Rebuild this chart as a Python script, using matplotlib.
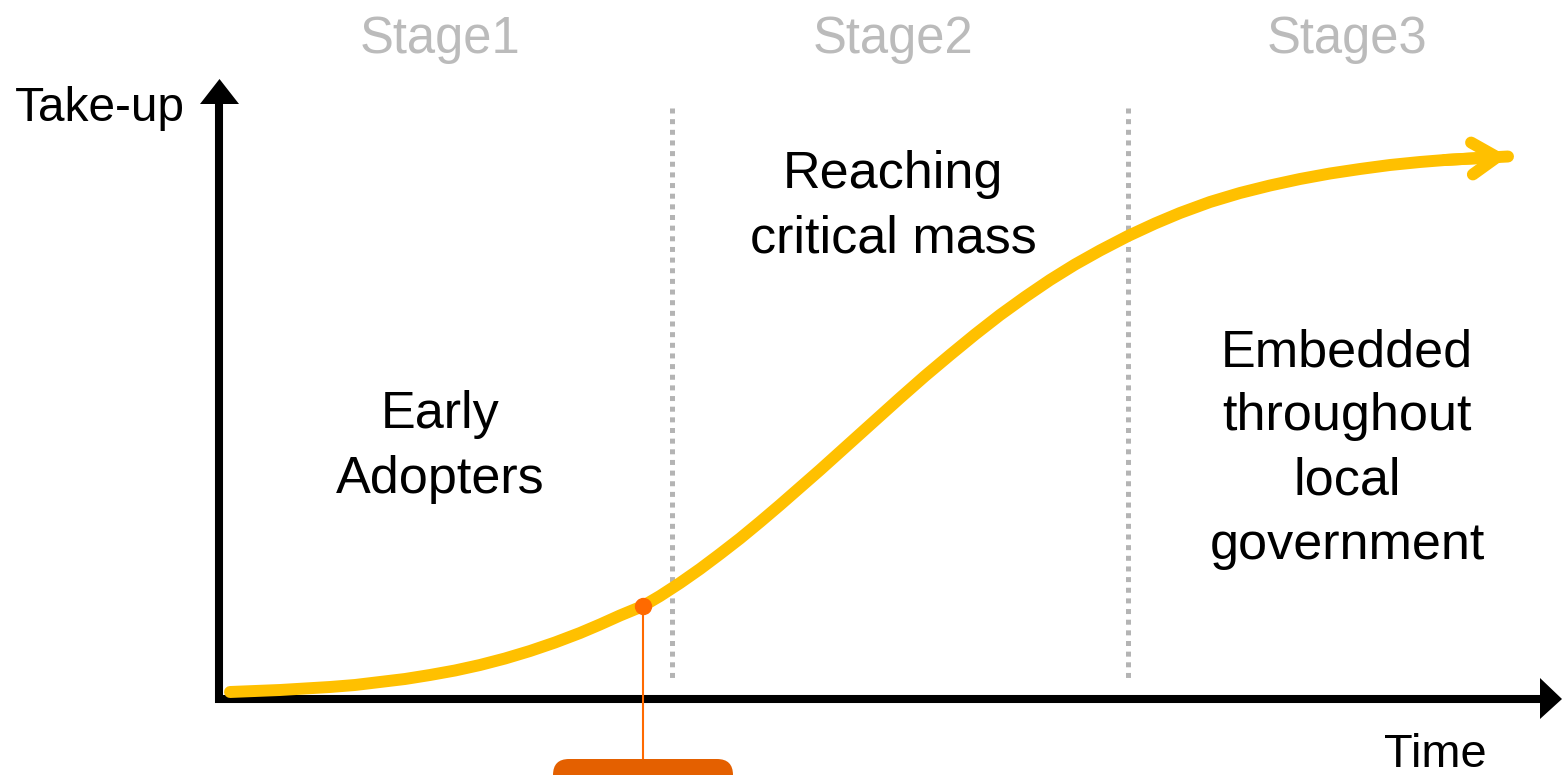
import matplotlib.pyplot as plt
from matplotlib.patches import FancyBboxPatch, Polygon

# -------------------------------
# data (pixel space of the 1562x775 canvas, y grows downward)
# -------------------------------
curve_x = [230, 255, 280, 305, 330, 355, 380, 405, 430, 455, 480, 505, 530, 555,
           580, 600, 620, 643, 660, 680, 700, 720, 740, 760, 780, 800, 820, 840,
           860, 880, 900, 925, 950, 975, 1000, 1025, 1050, 1075, 1100, 1128,
           1155, 1180, 1210, 1240, 1270, 1300, 1330, 1360, 1390, 1420, 1445,
           1470, 1508]
curve_y = [692, 691, 690, 688.5, 687, 685, 682, 679, 675, 670.5, 665, 658.5, 651,
           642.5, 633, 624.5, 615.5, 606, 596, 583, 569, 554, 538.5, 522, 505,
           487.5, 470, 452, 434, 416, 398, 376, 355, 334.5, 315, 297, 280, 264.5,
           250.5, 236, 223.5, 213, 202, 193, 185.5, 179, 173.5, 169, 165, 162,
           160, 158.5, 156.5]

stage_names = ["Stage1", "Stage2", "Stage3"]
stage_centres = [440, 893, 1347]
stage_text = ["Early\nAdopters", "Reaching\ncritical mass",
              "Embedded\nthroughout\nlocal\ngovernment"]
stage_text_y = [447, 207, 449]
divider_x = [672, 1128]

marker_x = 643
marker_y = 606

# colours
YELLOW = "#FFC000"
ORANGE = "#FF6A00"
BOX_ORANGE = "#E46000"
GREY = "#B4B4B4"
STAGE_GREY = "#BBBBBB"

plt.rcParams['font.family'] = ['Liberation Sans', 'DejaVu Sans']

fig = plt.figure(figsize=(15.62, 7.75), dpi=100)
ax = fig.add_axes([0, 0, 1, 1])
ax.set_xlim(0, 1562)
ax.set_ylim(775, 0)
ax.axis('off')

# -------------------------------
# axes with arrow heads
# -------------------------------
ax.plot([219, 219], [703, 100], color='black', lw=5.8, solid_capstyle='butt')
ax.plot([215, 1542], [699, 699], color='black', lw=5.8, solid_capstyle='butt')
ax.add_patch(Polygon([[200, 104], [239, 104], [219.5, 79]], closed=True,
                     color='black', lw=0))
ax.add_patch(Polygon([[1540, 678], [1540, 719], [1562, 699]], closed=True,
                     color='black', lw=0))

ax.text(185, 121, "Take-up", fontsize=34.4, ha='right', va='baseline')
ax.text(1435, 767, "Time", fontsize=33.8, ha='center', va='baseline')

# -------------------------------
# stage dividers + labels
# -------------------------------
for xd in divider_x:
    ax.plot([xd, xd], [108, 680], color=GREY, lw=3.6,
            linestyle=(0, (1, 1.13)), dash_capstyle='butt')

for name, xc in zip(stage_names, stage_centres):
    ax.text(xc, 53, name, fontsize=36.5, color=STAGE_GREY, ha='center', va='baseline')

for txt, xc, yc in zip(stage_text, stage_centres, stage_text_y):
    ax.text(xc, yc, txt, fontsize=37.5, ha='center', va='center',
            linespacing=1.4, multialignment='center')

# -------------------------------
# adoption curve
# -------------------------------
ax.plot(curve_x, curve_y, color=YELLOW, lw=8.6, solid_capstyle='round',
        solid_joinstyle='round', zorder=3)
ax.annotate('', xy=(curve_x[-1], curve_y[-1]), xytext=(curve_x[-3], curve_y[-3]),
            arrowprops=dict(arrowstyle='->,head_length=1.8,head_width=1.15',
                            color=YELLOW, lw=8.6, shrinkA=0, shrinkB=0,
                            capstyle='round', joinstyle='round'),
            zorder=3)

# -------------------------------
# callout marker + box
# -------------------------------
ax.plot([marker_x, marker_x], [marker_y, 762], color=ORANGE, lw=1.5, zorder=4)
ax.plot([marker_x], [marker_y], 'o', ms=11.5, color=ORANGE, zorder=5)
ax.add_patch(FancyBboxPatch((553, 759), 180, 60,
                            boxstyle="round,pad=0,rounding_size=16",
                            fc=BOX_ORANGE, ec='none', zorder=4))

fig.savefig("out.png", dpi=100)
